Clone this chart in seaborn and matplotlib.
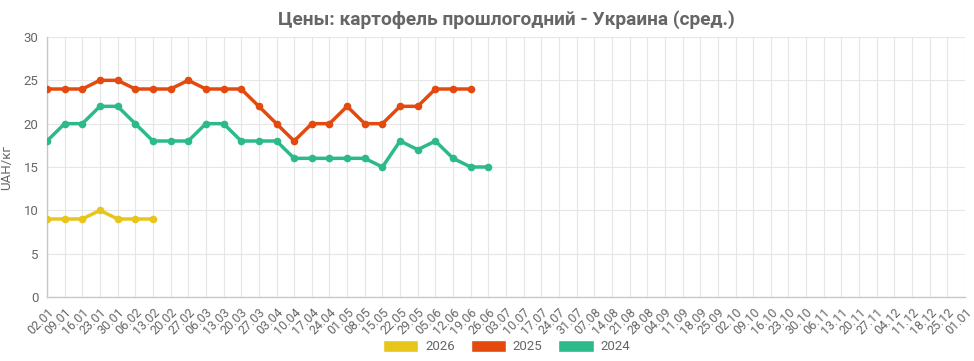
import pandas as pd
import seaborn as sns
import matplotlib.pyplot as plt
from matplotlib.patches import Patch

WEEKS = ["02.01", "09.01", "16.01", "23.01", "30.01", "06.02", "13.02", "20.02", "27.02",
         "06.03", "13.03", "20.03", "27.03", "03.04", "10.04", "17.04", "24.04", "01.05",
         "08.05", "15.05", "22.05", "29.05", "05.06", "12.06", "19.06", "26.06", "03.07",
         "10.07", "17.07", "24.07", "31.07", "07.08", "14.08", "21.08", "28.08", "04.09",
         "11.09", "18.09", "25.09", "02.10", "09.10", "16.10", "23.10", "30.10", "06.11",
         "13.11", "20.11", "27.11", "04.12", "11.12", "18.12", "25.12", "01.01"]

PRICES_2026 = [9, 9, 9, 10, 9, 9, 9]
PRICES_2025 = [24, 24, 24, 25, 25, 24, 24, 24, 25, 24, 24, 24, 22, 20, 18, 20, 20, 22,
               20, 20, 22, 22, 24, 24, 24]
PRICES_2024 = [18, 20, 20, 22, 22, 20, 18, 18, 18, 20, 20, 18, 18, 18, 16, 16, 16, 16,
               16, 15, 18, 17, 18, 16, 15, 15]

COLORS = {"2026": "#E8C51A", "2025": "#E4490D", "2024": "#2CBA8A"}

sns.set_theme(style="white")
plt.rcParams["font.family"] = ["Roboto", "DejaVu Sans"]

series = {"2026": PRICES_2026, "2025": PRICES_2025, "2024": PRICES_2024}
rows = []
for year, vals in series.items():
    for i, v in enumerate(vals):
        rows.append(dict(year=year, week=i, price=v))
df = pd.DataFrame(rows)

fig = plt.figure(figsize=(9.74, 3.61), dpi=100)
ax = fig.add_axes([47 / 974, 1 - 297 / 361, (965 - 47) / 974, (297 - 37) / 361])

for year in ["2024", "2025", "2026"]:
    sns.lineplot(data=df[df["year"] == year], x="week", y="price", ax=ax,
                 color=COLORS[year], linewidth=2.5, marker="o", markersize=5.5,
                 markeredgewidth=0, legend=False, zorder=3)

ax.set_xlim(0, len(WEEKS) - 1)
ax.set_ylim(0, 30)
ax.set_xticks(range(len(WEEKS)))
ax.set_xticklabels(WEEKS, rotation=45, ha="right", rotation_mode="anchor",
                   fontsize=9, color="#666666")
ax.set_yticks(range(0, 31, 5))
ax.tick_params(axis="y", labelsize=9.5, colors="#666666", length=0, pad=6)
ax.tick_params(axis="x", length=4, color="#cccccc", pad=2)
ax.grid(True, color="#e6e6e6", linewidth=0.8)
for side in ["top", "right"]:
    ax.spines[side].set_visible(False)
for side in ["left", "bottom"]:
    ax.spines[side].set_color("#c8c8c8")
    ax.spines[side].set_linewidth(1)

ax.set_xlabel("")
ax.set_ylabel("UAH/кг", fontsize=9.5, color="#666666", labelpad=8)
ax.set_title("Цены: картофель прошлогодний - Украина (сред.)", fontsize=13.8,
             fontweight="bold", color="#666666", pad=9)

handles = [Patch(facecolor=COLORS[y], edgecolor="white") for y in ["2026", "2025", "2024"]]
fig.legend(handles, ["2026", "2025", "2024"], loc="center", bbox_to_anchor=(0.52, 0.04),
           ncol=3, frameon=False, handlelength=2.7, handleheight=1.1, columnspacing=1.2,
           handletextpad=0.5, labelcolor="#666666", fontsize=9.5)

fig.savefig("out.png", dpi=100)
